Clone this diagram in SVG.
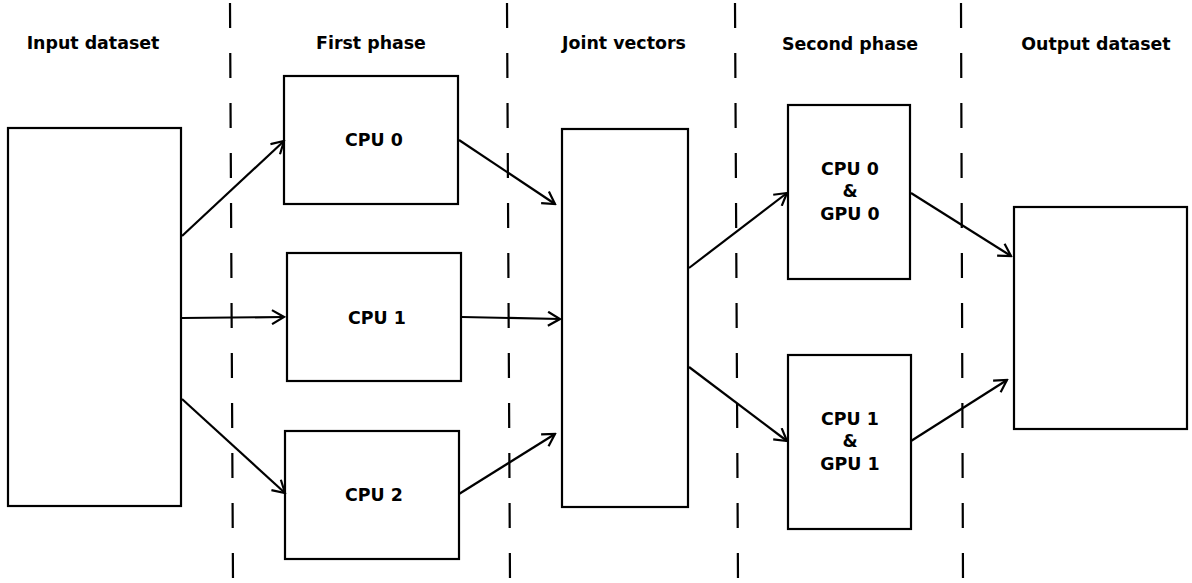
<svg xmlns="http://www.w3.org/2000/svg" width="1192" height="583" viewBox="0 0 1192 583">
<style>
.box{fill:#fff;stroke:#000;stroke-width:2.2}
.dash{stroke:#000;stroke-width:2.2;stroke-dasharray:25 25;fill:none}
.conn line{stroke:#000;stroke-width:2.2;fill:none;marker-end:url(#arr)}
text{font-family:"DejaVu Sans",sans-serif;font-weight:bold;font-size:17.4px;fill:#000;text-anchor:middle}
</style>
<defs>
<marker id="arr" markerUnits="userSpaceOnUse" markerWidth="16" markerHeight="16" viewBox="-14 -8 16 16" refX="0" refY="0" orient="auto">
<path d="M-12,-7 L0,0 L-12,7" fill="none" stroke="#000" stroke-width="2.2"/>
</marker>
</defs>
<rect width="1192" height="583" fill="#fff"/>
<g id="separators">
<line class="dash" x1="230" y1="3" x2="233" y2="583"/>
<line class="dash" x1="507" y1="3" x2="510" y2="583"/>
<line class="dash" x1="735" y1="3" x2="738" y2="583"/>
<line class="dash" x1="961" y1="3" x2="963" y2="583"/>
</g>
<g id="headers">
<text x="93" y="49">Input dataset</text>
<text x="371" y="49">First phase</text>
<text x="624" y="49">Joint vectors</text>
<text x="850" y="50">Second phase</text>
<text x="1096" y="50">Output dataset</text>
</g>
<g id="input"><rect class="box" x="8" y="128" width="173" height="378"/></g>
<g id="cpu0"><rect class="box" x="284" y="76" width="174" height="128"/><text x="374" y="146">CPU 0</text></g>
<g id="cpu1"><rect class="box" x="287" y="253" width="174" height="128"/><text x="377" y="324">CPU 1</text></g>
<g id="cpu2"><rect class="box" x="285" y="431" width="174" height="128"/><text x="374" y="501">CPU 2</text></g>
<g id="joint"><rect class="box" x="562" y="129" width="126" height="378"/></g>
<g id="cg0"><rect class="box" x="788" y="105" width="122" height="174"/><text x="850" y="175">CPU 0</text><text x="850" y="197">&amp;</text><text x="850" y="220">GPU 0</text></g>
<g id="cg1"><rect class="box" x="788" y="355" width="123" height="174"/><text x="850" y="425">CPU 1</text><text x="850" y="447">&amp;</text><text x="850" y="470">GPU 1</text></g>
<g id="output"><rect class="box" x="1014" y="207" width="173" height="222"/></g>
<g class="conn" id="connectors">
<line x1="182" y1="236" x2="284" y2="141"/>
<line x1="182" y1="318" x2="284" y2="317"/>
<line x1="182" y1="399" x2="285" y2="493"/>
<line x1="459" y1="140" x2="555" y2="204"/>
<line x1="462" y1="317" x2="560" y2="319"/>
<line x1="459" y1="494" x2="555" y2="434"/>
<line x1="689" y1="268" x2="787" y2="193"/>
<line x1="689" y1="367" x2="787" y2="441"/>
<line x1="911" y1="193" x2="1011" y2="256"/>
<line x1="911" y1="441" x2="1007" y2="380"/>
</g>
</svg>
